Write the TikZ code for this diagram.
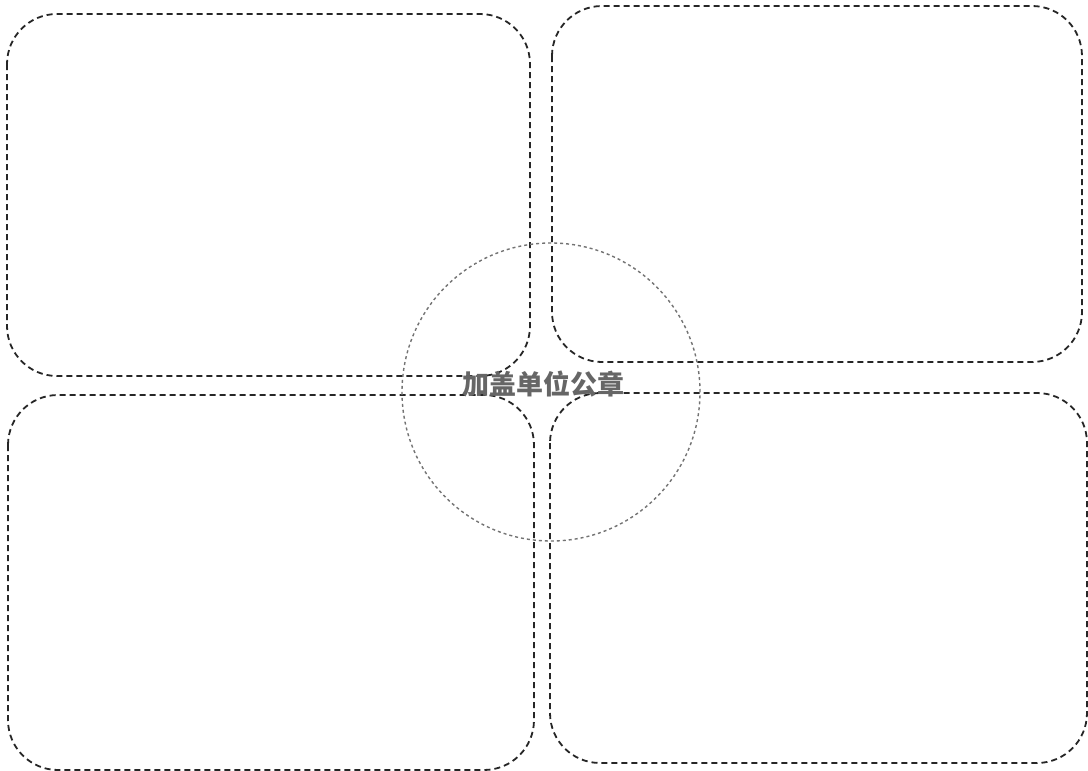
\documentclass[tikz,border=0pt]{standalone}
\usepackage{fontspec}
\newfontfamily\cjk{Noto Sans CJK SC}
\begin{document}
\begin{tikzpicture}[x=1pt,y=-1pt,
  panel/.style={draw=black!85,line width=1.8pt,dash pattern=on 6pt off 4pt,rounded corners=50pt},
  seal/.style={draw=black!55,line width=1.4pt,dash pattern=on 3pt off 3pt}]
\useasboundingbox[fill=white] (0,0) rectangle (1088,771);
\draw[panel] (7,14) rectangle (530,376);
\draw[panel] (552,6) rectangle (1082,362);
\draw[panel] (8,395) rectangle (534,770);
\draw[panel] (550,393) rectangle (1087,763);
\node[seal,circle,minimum size=298pt,inner sep=0pt] (sealc) at (551,392) {};
\node[text=black!60,font=\cjk\bfseries\fontsize{27pt}{27pt}\selectfont,inner sep=0pt] (label) at (543,384) {加盖单位公章};
\end{tikzpicture}
\end{document}
